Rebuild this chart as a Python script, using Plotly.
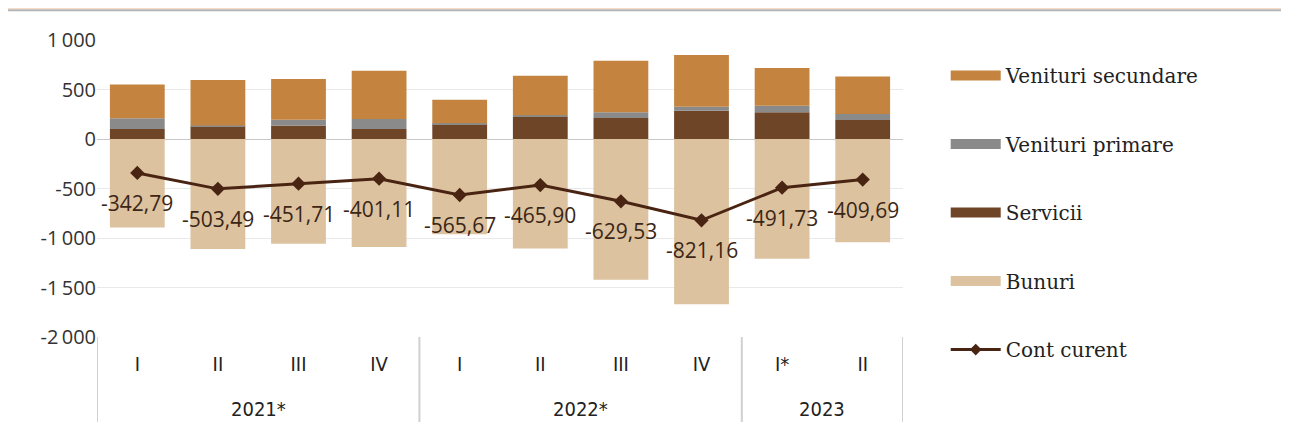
import plotly.graph_objects as go

ANI = ["2021*", "2022*", "2023"]
TRIMESTRE_PE_AN = [4, 4, 2]
TRIMESTRE = ["I", "II", "III", "IV", "I", "II", "III", "IV", "I*", "II"]

BUNURI = [-893, -1111, -1057, -1091, -963, -1105, -1421, -1669, -1209, -1042]
SERVICII = [100, 127, 135, 101, 151, 225, 212, 286, 269, 192]
VENITURI_PRIMARE = [110, 10, 60, 100, 8, 15, 57, 40, 67, 61]
VENITURI_SECUNDARE = [340, 459, 410, 489, 238, 399, 522, 522, 381, 379]
CONT_CURENT = [-342.79, -503.49, -451.71, -401.11, -565.67, -465.90, -629.53, -821.16, -491.73, -409.69]

Y_TICKS = [1000, 500, 0, -500, -1000, -1500, -2000]
Y_TICK_TEXT = ["1\u2009000", "500", "0", "-500", "-1\u2009000", "-1\u2009500", "-2\u2009000"]

C_SEC = "#c4833f"
C_PRIM = "#8a8a8a"
C_SERV = "#6f4528"
C_BUN = "#dcc29f"
C_CONT = "#4a2412"

SANS_NARROW = "Liberation Sans Narrow, DejaVu Sans Condensed, Open Sans"

x = list(range(len(TRIMESTRE)))

fig = go.Figure()

for nume, vals, cul in [
    ("Bunuri", BUNURI, C_BUN),
    ("Servicii", SERVICII, C_SERV),
    ("Venituri primare", VENITURI_PRIMARE, C_PRIM),
    ("Venituri secundare", VENITURI_SECUNDARE, C_SEC),
]:
    fig.add_trace(go.Bar(x=x, y=vals, name=nume, marker=dict(color=cul, line_width=0),
                         showlegend=False, hoverinfo="skip"))

fig.add_trace(go.Scatter(
    x=x, y=CONT_CURENT, mode="lines+markers", name="Cont curent",
    line=dict(color=C_CONT, width=3),
    marker=dict(symbol="diamond", size=11, color=C_CONT),
    showlegend=False,
))

# legenda cu simboluri late
for i, (nume, cul) in enumerate([
    ("Venituri secundare", C_SEC),
    ("Venituri primare", C_PRIM),
    ("Servicii", C_SERV),
    ("Bunuri", C_BUN),
]):
    fig.add_trace(go.Scatter(x=[None], y=[None], mode="lines", name=nume,
                             line=dict(color=cul, width=10), legendgroup=f"g{i}"))
fig.add_trace(go.Scatter(x=[None], y=[None], mode="lines+markers", name="Cont curent",
                         line=dict(color=C_CONT, width=3),
                         marker=dict(symbol="diamond", size=9, color=C_CONT),
                         legendgroup="g4"))

# etichete cont curent, sub marcaje
annotations = [
    dict(x=xi, y=v, xref="x", yref="y", text=f"{v:.2f}".replace(".", ","),
         showarrow=False, yshift=-30, yanchor="middle",
         font=dict(family="Open Sans", size=21, color="#3b2616"))
    for xi, v in zip(x, CONT_CURENT)
]

# ani sub trimestre + separatoare
shapes = [
    dict(type="rect", xref="paper", yref="paper", x0=-0.2, x1=1.6, y0=1.104, y1=1.2,
         fillcolor="#f9dcc6", line_width=0, layer="below"),
    dict(type="line", xref="paper", yref="paper", x0=-0.2, x1=1.474, y0=1.1, y1=1.1,
         line=dict(color="#b4b4b4", width=2)),
    dict(type="line", xref="paper", yref="paper", x0=1.474, x1=1.474, y0=-0.5, y1=1.1,
         line=dict(color="#c8c8c8", width=2)),
]
start = 0
for an, n in zip(ANI, TRIMESTRE_PE_AN):
    shapes.append(dict(type="line", xref="x", yref="paper", x0=start - 0.5, x1=start - 0.5,
                       y0=0, y1=-0.286, line=dict(color="#d0d0d0", width=2)))
    annotations.append(dict(x=start + (n - 1) / 2, y=-0.242, xref="x", yref="paper",
                            text=an, showarrow=False, yanchor="middle",
                            font=dict(family=SANS_NARROW, size=20, color="#222222")))
    start += n
shapes.append(dict(type="line", xref="x", yref="paper", x0=start - 0.5, x1=start - 0.5,
                   y0=0, y1=-0.286, line=dict(color="#d0d0d0", width=2)))

fig.update_layout(
    width=1281, height=436,
    barmode="relative", bargap=0.32,
    margin=dict(l=89, r=386, t=32, b=107, autoexpand=False),
    paper_bgcolor="white", plot_bgcolor="white",
    legend=dict(x=1.053, y=0.946, xanchor="left", yanchor="top",
                font=dict(family="DejaVu Serif", size=20, color="#222222"),
                tracegroupgap=39.5, itemwidth=50, traceorder="grouped", maxheight=420),
    shapes=shapes,
    annotations=annotations,
)

fig.update_yaxes(range=[-2000, 1000], tickvals=Y_TICKS, ticktext=Y_TICK_TEXT,
                 tickfont=dict(family="Open Sans", size=20, color="#333333"),
                 showgrid=True, gridcolor="#e9e9e9", gridwidth=1, automargin=False,
                 zeroline=True, zerolinecolor="#c8c8c8", zerolinewidth=1, ticks="")
fig.update_xaxes(range=[-0.5, len(TRIMESTRE) - 0.5], tickvals=x, ticktext=TRIMESTRE,
                 tickfont=dict(family=SANS_NARROW, size=20, color="#222222"),
                 ticklabelstandoff=13, showgrid=False, zeroline=False, automargin=False,
                 showline=False, ticks="")

fig.write_html("out.html")
